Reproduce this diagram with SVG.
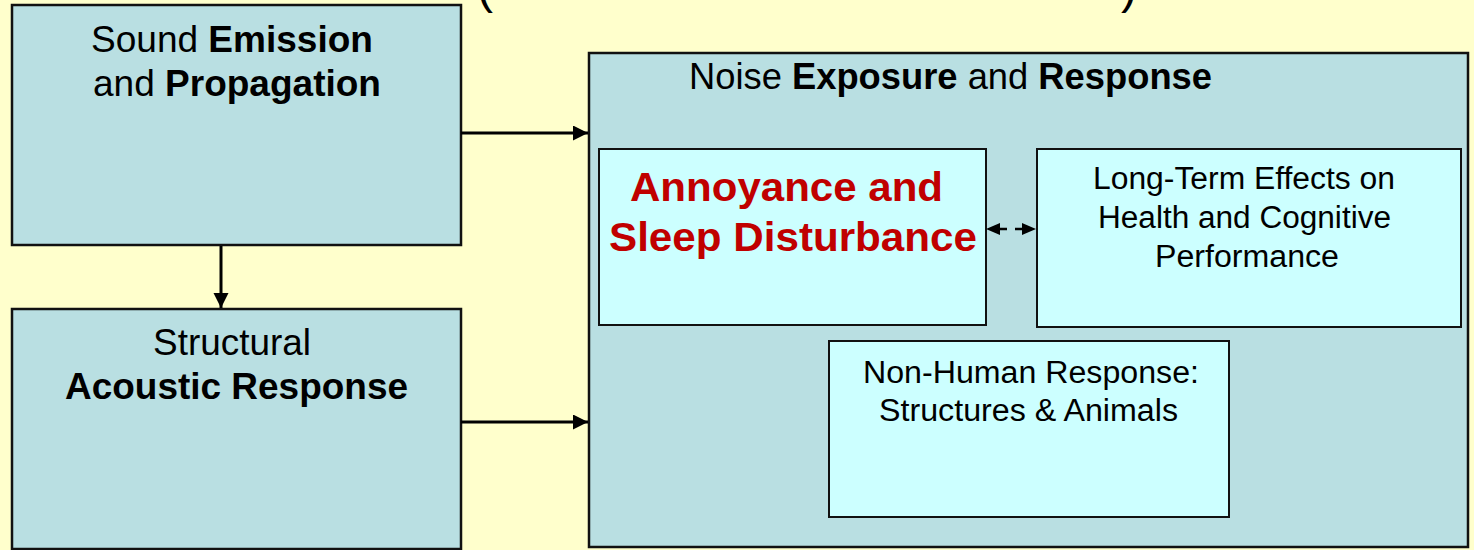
<svg xmlns="http://www.w3.org/2000/svg" width="1474" height="550" viewBox="0 0 1474 550">
<style>
text{font-family:"Liberation Sans",Arial,sans-serif;fill:#000}
.outer{fill:#B9DFE2;stroke:#111;stroke-width:2.5}
.inner{fill:#CCFFFF;stroke:#111;stroke-width:2}
.b{font-weight:bold}
.conn{stroke:#000;stroke-width:3;fill:none}
.red{fill:#C00000;font-weight:bold}
</style>
<defs>
<marker id="ah" markerUnits="userSpaceOnUse" markerWidth="16" markerHeight="16" refX="15" refY="7.5" orient="auto">
<path d="M0,0 L15,7.5 L0,15 z" fill="#000"/>
</marker>
<marker id="dh" markerUnits="userSpaceOnUse" markerWidth="16" markerHeight="14" refX="0" refY="6" orient="auto-start-reverse">
<path d="M0,0 L14,6 L0,12 z" fill="#000"/>
</marker>
</defs>
<rect width="1474" height="550" fill="#FFFFCC"/>
<text x="477" y="3" font-size="48">(</text>
<text x="1121" y="3" font-size="48">)</text>

<g id="sound-emission">
<rect class="outer" x="12" y="5" width="449" height="240"/>
<text x="91" y="52" font-size="36" textLength="282" lengthAdjust="spacingAndGlyphs">Sound <tspan class="b">Emission</tspan></text>
<text x="93" y="96" font-size="36" textLength="288" lengthAdjust="spacingAndGlyphs">and <tspan class="b">Propagation</tspan></text>
</g>

<g id="structural">
<rect class="outer" x="12" y="309" width="449" height="240"/>
<text x="153" y="355" font-size="36" textLength="158" lengthAdjust="spacingAndGlyphs">Structural</text>
<text x="65" y="399" font-size="36" class="b" textLength="343" lengthAdjust="spacingAndGlyphs">Acoustic Response</text>
</g>

<g id="noise-exposure">
<rect class="outer" x="589" y="53" width="879" height="494"/>
<text x="689" y="89" font-size="36" textLength="523" lengthAdjust="spacingAndGlyphs">Noise <tspan class="b">Exposure</tspan> and <tspan class="b">Response</tspan></text>
</g>

<g id="annoyance">
<rect class="inner" x="599" y="149" width="387" height="176"/>
<text x="630" y="201" font-size="41" class="red" textLength="313" lengthAdjust="spacingAndGlyphs">Annoyance and</text>
<text x="609" y="251" font-size="41" class="red" textLength="368" lengthAdjust="spacingAndGlyphs">Sleep Disturbance</text>
</g>

<g id="long-term">
<rect class="inner" x="1037" y="149" width="424" height="178"/>
<text x="1093" y="189" font-size="31" textLength="302" lengthAdjust="spacingAndGlyphs">Long-Term Effects on</text>
<text x="1098" y="228" font-size="31" textLength="293" lengthAdjust="spacingAndGlyphs">Health and Cognitive</text>
<text x="1155" y="267" font-size="31" textLength="184" lengthAdjust="spacingAndGlyphs">Performance</text>
</g>

<g id="non-human">
<rect class="inner" x="829" y="341" width="400" height="176"/>
<text x="863" y="383" font-size="31" textLength="336" lengthAdjust="spacingAndGlyphs">Non-Human Response:</text>
<text x="879" y="421" font-size="31" textLength="299" lengthAdjust="spacingAndGlyphs">Structures &amp; Animals</text>
</g>

<g id="connectors">
<line class="conn" x1="461" y1="133" x2="588" y2="133" marker-end="url(#ah)"/>
<line class="conn" x1="221" y1="246" x2="221" y2="308" marker-end="url(#ah)"/>
<line class="conn" x1="461" y1="422" x2="588" y2="422" marker-end="url(#ah)"/>
<line x1="1000" y1="229" x2="1022" y2="229" stroke="#000" stroke-width="2.5" stroke-dasharray="7,8" marker-start="url(#dh)" marker-end="url(#dh)"/>
</g>
</svg>
